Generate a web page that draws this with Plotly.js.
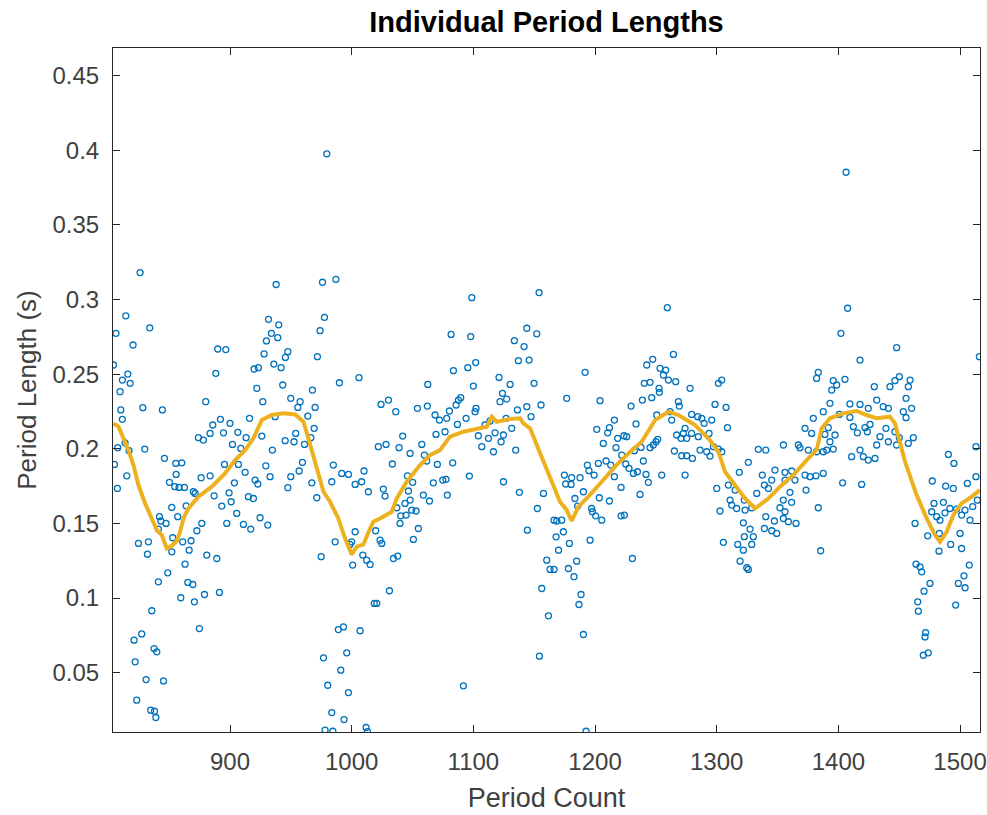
<!DOCTYPE html>
<html>
<head>
<meta charset="utf-8">
<script src="https://cdn.plot.ly/plotly-3.0.1.min.js"></script>
<style>html,body{margin:0;padding:0;background:#fff;}#chart{width:987px;height:815px;}</style>
</head>
<body>
<div id="chart"></div>
<script>
// ---- Individual period lengths (scatter) ----
const countA = [979.5, 826.1, 937.9, 976.0, 987.0, 814.3, 806.3, 834.0, 820.3, 931.6,
  940.0, 934.0, 939.2, 929.9, 977.6, 974.0, 889.9, 896.5, 947.5, 945.5,
  928.0, 971.8, 936.0, 942.0, 919.8, 923.3, 804.2, 816.0, 888.3, 811.5,
  817.9, 943.3, 922.0, 967.7];
const lenA = [0.3975, 0.318, 0.310, 0.3115, 0.3135, 0.289, 0.2773, 0.281, 0.2695, 0.2867,
  0.283, 0.2773, 0.2744, 0.2722, 0.288, 0.2791, 0.2668, 0.2664, 0.265, 0.2612,
  0.2635, 0.2617, 0.2567, 0.2543, 0.2534, 0.2543, 0.2561, 0.25, 0.2505, 0.246,
  0.2438, 0.2427, 0.2405, 0.2393];

const countB = [809.6, 926.9, 949.9, 957.6, 955.7, 969.9, 880.0, 828.3, 844.4, 810.2,
  811.5, 916.0, 892.1, 885.8, 900.0, 937.0, 963.9, 969.1, 874.0, 878.1,
  883.6, 894.6, 906.4, 913.2, 926.1, 954.0, 966.4, 945.3, 952.6, 961.2,
  807.7, 813.7, 829.9, 817.0, 902.0, 908.8, 934.8, 846.1, 855.4, 860.3,
  805.0, 895.4, 906.9, 929.4, 959.5, 912.4, 855.7, 815.1, 876.2, 883.6,
  932.9, 920.6, 949.9, 956.8, 850.2, 854.6, 858.1, 862.5, 903.6, 922.8,
  947.5, 967.2, 983.6, 807.4, 869.9, 871.3, 886.9, 899.2, 915.1, 919.2,
  971.3, 863.9, 893.2, 900.9, 852.1, 857.0, 842.0, 905.5, 911.0, 917.0,
  924.7, 931.0, 897.3, 876.8, 872.7, 843.1, 847.4, 841.1, 852.9, 868.0,
  861.1, 824.7, 832.9, 866.4, 852.1, 832.1, 880.9, 889.1, 974.9, 986.4,
  863.0, 848.8, 841.1, 865.3, 869.4, 879.0, 891.3, 859.5, 870.7, 835.7,
  874.8, 827.4, 821.1, 837.6, 839.8, 822.0, 976.8, 831.0, 845.3, 980.3,
  823.3, 983.6, 834.8, 837.9, 839.0, 978.1, 984.5];
const lenB = [0.2382, 0.2315, 0.2338, 0.2315, 0.2277, 0.2277, 0.2315, 0.2275, 0.226, 0.226,
  0.2197, 0.2204, 0.2197, 0.2159, 0.217, 0.2215, 0.2219, 0.2137, 0.2074, 0.2058,
  0.2103, 0.2107, 0.2110, 0.2074, 0.2085, 0.2103, 0.2074, 0.2054, 0.2047, 0.2029,
  0.2007, 0.204, 0.1998, 0.1987, 0.2029, 0.2002, 0.1991, 0.1936, 0.1902, 0.1906,
  0.1895, 0.1895, 0.1895, 0.1886, 0.1909, 0.1842, 0.1828, 0.1819, 0.1806, 0.1819,
  0.1813, 0.1790, 0.1813, 0.1851, 0.1775, 0.1746, 0.1741, 0.1741, 0.1772, 0.1764,
  0.1739, 0.1772, 0.1779, 0.1734, 0.1712, 0.1701, 0.1685, 0.1705, 0.1679, 0.1667,
  0.1672, 0.1618, 0.1616, 0.1645, 0.1607, 0.1545, 0.1545, 0.1567, 0.1493, 0.1462,
  0.1538, 0.1489, 0.1500, 0.1500, 0.1451, 0.1516, 0.1500, 0.1462, 0.1404, 0.1384,
  0.1377, 0.1366, 0.1377, 0.1321, 0.1310, 0.1294, 0.1288, 0.1265, 0.1277, 0.1377,
  0.1227, 0.1169, 0.1109, 0.1105, 0.1091, 0.1024, 0.1038, 0.1002, 0.0975, 0.0915,
  0.0796, 0.076, 0.0718, 0.0662, 0.064, 0.0573, 0.06, 0.0454, 0.0445, 0.0416,
  0.0316, 0.0233, 0.0249, 0.0242, 0.0200, 0.0115, 0.0108];

const countC = [1098.7, 1154.0, 1081.7, 1097.8, 1143.9, 1152.1, 1133.7, 1141.7, 1101.9, 1095.4,
  1083.6, 1137.0, 1145.8, 1006.0, 989.9, 1062.5, 1100.0, 1121.1, 1130.2, 1149.9];
const lenC = [0.3012, 0.3046, 0.2766, 0.2751, 0.2807, 0.277, 0.2724, 0.2684, 0.2577, 0.2543,
  0.2523, 0.259, 0.2594, 0.2476, 0.2442, 0.2431, 0.242, 0.2478, 0.2431, 0.2438];

const countD = [1024.1, 1030.2, 1036.2, 1054.0, 1062.2, 1068.5, 1072.1, 1080.3, 1085.8, 1087.7,
  1089.6, 1078.1, 1086.9, 1094.0, 1101.4, 1102.2, 1121.9, 1123.9, 1127.4, 1136.2,
  1143.9, 1155.6, 1147.4, 1126.9, 1113.7, 1109.6, 1117.8, 1104.1, 1124.7, 1131.5,
  1112.4, 1106.9, 1116.5, 1122.8, 1134.8, 1076.7, 1069.3, 1057.6, 1048.0, 1041.9,
  1038.9, 1021.9, 1028.2, 1059.7, 1061.7, 1070.4, 1083.0, 1033.4, 984.9, 991.8,
  997.3, 1010.1, 1045.8, 1096.7, 1074.8, 1077.5, 1124.7, 1002.8, 1008.2, 1050.1,
  1067.1, 1026.0, 1013.7, 1046.6, 1058.9, 1078.6, 1137.8, 1157.6, 1027.4, 1048.0,
  1063.9, 1043.8, 1037.0, 1052.9, 1049.3, 1044.7, 1040.3, 1152.6, 1039.7, 1054.8,
  1050.7, 1166.3, 1168.5, 1144.4, 1000.0, 998.6, 1002.8, 1019.7, 1023.3, 1024.7,
  1009.1, 1012.3, 1015.1, 1000.8, 1034.3, 1037.8, 1168.0, 1170.0, 1160.3, 1163.0,
  1166.3, 1156.2, 1031.0, 1018.6, 1020.6, 1161.7, 989.0, 993.2, 1006.9, 995.9,
  991.0, 1154.3, 997.3, 1091.8, 993.7, 1011.8, 1012.9];
const lenD = [0.2297, 0.2326, 0.2248, 0.2271, 0.2286, 0.2226, 0.2192, 0.2253, 0.2293, 0.2326,
  0.2342, 0.2204, 0.2163, 0.2204, 0.2248, 0.2271, 0.2315, 0.2371, 0.2333, 0.226,
  0.2282, 0.2293, 0.2215, 0.2204, 0.2186, 0.2159, 0.2107, 0.2087, 0.2092, 0.2137,
  0.2070, 0.2014, 0.1980, 0.2047, 0.1991, 0.2114, 0.2096, 0.2029, 0.1969, 0.2085,
  0.2007, 0.2014, 0.2029, 0.1958, 0.1918, 0.1895, 0.1906, 0.1898, 0.1891, 0.1835,
  0.1828, 0.1851, 0.1819, 0.1817, 0.179, 0.1795, 0.1779, 0.1761, 0.1779, 0.1775,
  0.1772, 0.1730, 0.1712, 0.1717, 0.1690, 0.1690, 0.1708, 0.1701, 0.1683, 0.1656,
  0.1650, 0.1634, 0.1605, 0.1583, 0.1589, 0.1556, 0.1551, 0.1600, 0.1500, 0.1466,
  0.1393, 0.1522, 0.1516, 0.1455, 0.1377, 0.1359, 0.1444, 0.1451, 0.1388, 0.1366,
  0.1288, 0.1254, 0.1225, 0.1221, 0.1265, 0.1281, 0.141, 0.1321, 0.1254, 0.1192,
  0.1192, 0.1064, 0.1049, 0.0964, 0.0964, 0.0881, 0.0789, 0.0807, 0.0781, 0.0633,
  0.0517, 0.0611, 0.0367, 0.0412, 0.0186, 0.0133, 0.0106];

const countE = [1259.4, 1264.4, 1191.8, 1247.4, 1242.5, 1253.4, 1258.1, 1256.2, 1260.3, 1266.3,
  1240.5, 1245.2, 1301.4, 1304.1, 1278.1, 1252.6];
const lenE = [0.2945, 0.2632, 0.2512, 0.2599, 0.2561, 0.2539, 0.2527, 0.2494, 0.2460, 0.2449,
  0.2438, 0.2445, 0.2438, 0.2460, 0.2405, 0.2405];

const countF = [1176.7, 1204.1, 1229.6, 1238.9, 1246.6, 1252.9, 1268.5, 1269.3, 1298.6, 1307.7,
  1215.9, 1233.7, 1201.4, 1211.8, 1210.4, 1250.7, 1261.6, 1263.0, 1279.4, 1284.4,
  1287.7, 1289.6, 1295.9, 1274.0, 1272.6, 1279.4, 1267.1, 1284.9, 1270.7, 1275.3,
  1293.7, 1308.8, 1226.0, 1223.8, 1218.6, 1206.8, 1217.2, 1250.1, 1247.9, 1245.2,
  1237.8, 1232.3, 1251.5, 1221.9, 1297.3, 1301.4, 1304.1, 1286.3, 1291.8, 1294.5,
  1265.2, 1271.2, 1275.3, 1280.0, 1334.2, 1340.3, 1354.8, 1239.7, 1193.7, 1202.7,
  1209.0, 1212.9, 1225.2, 1227.9, 1231.5, 1234.8, 1195.0, 1199.2, 1326.0, 1347.9,
  1337.5, 1345.2, 1356.2, 1174.8, 1180.8, 1187.7, 1175.9, 1180.3, 1215.9, 1241.9,
  1243.8, 1254.8, 1274.0, 1221.4, 1318.6, 1300.0, 1309.6, 1315.1, 1339.2, 1342.5,
  1332.9, 1190.4, 1203.5, 1237.0, 1183.5, 1211.8, 1311.0, 1322.7, 1312.3, 1316.4,
  1323.3, 1328.8, 1352.0, 1302.7, 1197.2, 1197.8, 1200.5, 1205.5, 1185.7, 1221.4,
  1224.1, 1172.6, 1174.0, 1195.9, 1178.9, 1184.9, 1178.1, 1182.7, 1340.3, 1347.4,
  1354.8, 1321.9, 1327.4, 1330.1, 1322.7, 1339.2, 1345.2, 1349.3, 1328.8, 1317.3,
  1321.9, 1305.5, 1230.7, 1319.2, 1324.7, 1326.0, 1188.5, 1186.8, 1190.4, 1192.6];
const lenF = [0.2338, 0.2322, 0.2286, 0.2326, 0.2342, 0.2378, 0.2315, 0.2286, 0.2297, 0.2277,
  0.2192, 0.2166, 0.2130, 0.2141, 0.2107, 0.2226, 0.2248, 0.2192, 0.2230, 0.2215,
  0.2204, 0.2170, 0.2192, 0.2137, 0.2103, 0.2103, 0.2092, 0.2081, 0.2070, 0.2070,
  0.2103, 0.2141, 0.2081, 0.2087, 0.2070, 0.2036, 0.2007, 0.2047, 0.2025, 0.2007,
  0.2009, 0.1987, 0.2063, 0.1958, 0.2014, 0.1998, 0.1980, 0.1991, 0.1980, 0.1951,
  0.1985, 0.1953, 0.1953, 0.1935, 0.1996, 0.1991, 0.2025, 0.1918, 0.1891, 0.1902,
  0.1918, 0.1891, 0.1898, 0.1869, 0.1835, 0.1846, 0.1853, 0.1824, 0.1909, 0.1857,
  0.1824, 0.1790, 0.1790, 0.1824, 0.1806, 0.1806, 0.1764, 0.1761, 0.1813, 0.1828,
  0.1775, 0.1824, 0.1824, 0.1741, 0.1842, 0.1734, 0.1757, 0.1723, 0.1757, 0.1734,
  0.1701, 0.1712, 0.1672, 0.1694, 0.1667, 0.1650, 0.1656, 0.1656, 0.1623, 0.1600,
  0.1589, 0.1605, 0.1605, 0.1583, 0.1600, 0.1578, 0.1551, 0.1522, 0.1616, 0.1551,
  0.1556, 0.1522, 0.1444, 0.1388, 0.1366, 0.1247, 0.1198, 0.1143, 0.1545, 0.1516,
  0.1533, 0.1504, 0.1462, 0.1411, 0.1411, 0.1466, 0.1451, 0.1433, 0.1359, 0.1359,
  0.1321, 0.1373, 0.1265, 0.1247, 0.1203, 0.1192, 0.1024, 0.0957, 0.0756, 0.0108];

const countG = [1406.3, 1407.6, 1402.1, 1447.9, 1417.8, 1515.9, 1383.5, 1382.1, 1395.8, 1398.6,
  1405.4, 1429.5, 1442.4, 1446.5, 1450.1, 1458.9, 1457.5];
const lenG = [0.3852, 0.2941, 0.2773, 0.2677, 0.2594, 0.2617, 0.2512, 0.2471, 0.2456, 0.2427,
  0.2465, 0.2416, 0.2416, 0.2456, 0.2483, 0.2460, 0.2416];

const countH = [1394.5, 1455.6, 1393.1, 1387.6, 1379.4, 1409.5, 1417.8, 1424.6, 1431.5, 1436.9,
  1441.1, 1460.2, 1453.4, 1400.8, 1409.5, 1455.6, 1426.0, 1412.3, 1415.6, 1421.9,
  1423.8, 1391.7, 1389.0, 1397.2, 1372.6, 1378.0, 1434.2, 1439.1, 1446.5, 1450.1,
  1457.5, 1461.6, 1441.1, 1447.9, 1431.5, 1393.1, 1395.8, 1367.1, 1368.4, 1375.3,
  1382.1, 1387.6, 1390.4, 1417.8, 1410.9, 1420.5, 1424.6, 1430.1, 1490.4, 1495.0,
  1513.1, 1356.1, 1361.6, 1364.3, 1372.6, 1376.7, 1381.6, 1387.6, 1403.5, 1419.1,
  1477.2, 1488.2, 1494.5, 1506.0, 1513.1, 1360.2, 1373.4, 1354.7, 1361.6, 1356.1,
  1358.9, 1365.2, 1383.5, 1478.6, 1486.3, 1491.7, 1497.2, 1504.1, 1510.4, 1514.2,
  1476.7, 1480.8, 1483.5, 1501.3, 1508.2, 1487.6, 1463.0, 1473.4, 1483.0, 1500.0,
  1492.3, 1482.7, 1501.3, 1385.4, 1463.8, 1467.1, 1468.5, 1507.6, 1503.2, 1475.3,
  1498.6, 1504.1, 1470.4, 1465.2, 1465.7, 1496.4, 1471.7, 1471.2, 1469.8, 1473.9];
const lenH = [0.2393, 0.2338, 0.2304, 0.2248, 0.2204, 0.2300, 0.2297, 0.2271, 0.2326, 0.2282,
  0.2271, 0.2271, 0.2248, 0.2230, 0.2210, 0.2208, 0.2163, 0.2148, 0.2107, 0.2141,
  0.2114, 0.2141, 0.2096, 0.2092, 0.2137, 0.2103, 0.2081, 0.2137, 0.2114, 0.2074,
  0.2036, 0.2074, 0.2047, 0.2025, 0.2025, 0.2047, 0.1998, 0.2025, 0.2007, 0.1991,
  0.1980, 0.1980, 0.1991, 0.1991, 0.1947, 0.1947, 0.1924, 0.1935, 0.1962, 0.1902,
  0.2014, 0.1842, 0.1851, 0.1790, 0.1824, 0.1813, 0.1819, 0.1835, 0.1772, 0.1761,
  0.1784, 0.1750, 0.1734, 0.1768, 0.1813, 0.1708, 0.1723, 0.1656, 0.1641, 0.1578,
  0.1511, 0.1500, 0.1605, 0.1634, 0.1641, 0.1600, 0.1596, 0.1589, 0.1612, 0.1656,
  0.1578, 0.1545, 0.1522, 0.1556, 0.1522, 0.1571, 0.1500, 0.1417, 0.1433, 0.1433,
  0.1359, 0.1314, 0.1332, 0.1317, 0.1227, 0.1209, 0.1176, 0.1221, 0.1149, 0.1098,
  0.1098, 0.1069, 0.1046, 0.0975, 0.0912, 0.0953, 0.0769, 0.0740, 0.0617, 0.0633];

// ---- Smoothed trend (yellow line) ----
const trendCount = [804.2, 808.3, 812.4, 816.5, 820.6, 824.7, 830.2, 835.7, 839.8, 843.9,
  848.0, 852.1, 856.2, 858.9, 861.7, 865.8, 874.0, 885.0, 895.9, 904.2,
  912.4, 919.2, 926.1, 934.3, 943.9, 953.5, 960.3, 964.4, 969.9, 976.8,
  982.2, 989.0, 994.5, 1000.0, 1004.1, 1009.6, 1015.1, 1017.8, 1023.3, 1032.9,
  1037.0, 1045.2, 1056.2, 1064.4, 1072.6, 1080.8, 1091.8, 1102.8, 1111.0, 1115.1,
  1119.2, 1130.2, 1138.4, 1141.1, 1146.6, 1152.1, 1160.3, 1167.1, 1171.2, 1176.7,
  1180.8, 1186.3, 1194.5, 1205.5, 1216.4, 1227.4, 1238.3, 1249.3, 1260.3, 1268.5,
  1282.2, 1293.1, 1301.4, 1306.8, 1315.1, 1323.3, 1331.5, 1342.5, 1352.0, 1363.0,
  1373.9, 1382.1, 1386.3, 1393.1, 1404.1, 1415.0, 1423.2, 1431.5, 1442.4, 1446.5,
  1454.8, 1464.3, 1472.6, 1479.4, 1483.5, 1489.0, 1494.5, 1501.3, 1509.6, 1516.4];
const trendLength = [0.217, 0.2148, 0.207, 0.1991, 0.1891, 0.1757, 0.1634, 0.1533, 0.1455, 0.1422,
  0.1332, 0.135, 0.1382, 0.1444, 0.1533, 0.16, 0.1679, 0.1746, 0.1835, 0.1924,
  0.1991, 0.207, 0.2192, 0.2226, 0.2237, 0.2230, 0.2181, 0.207, 0.1913, 0.1712,
  0.1645, 0.1533, 0.14, 0.1292, 0.1344, 0.1359, 0.1466, 0.1511, 0.1533, 0.1578,
  0.1667, 0.1779, 0.1891, 0.1958, 0.1991, 0.2081, 0.2114, 0.2130, 0.2148, 0.2215,
  0.2181, 0.2199, 0.2204, 0.2170, 0.2137, 0.2025, 0.1868, 0.1734, 0.1645, 0.1589,
  0.1516, 0.1612, 0.1679, 0.1779, 0.1880, 0.1969, 0.2047, 0.2192, 0.2248, 0.2226,
  0.2159, 0.2070, 0.1980, 0.1846, 0.1757, 0.1667, 0.16, 0.1667, 0.1746, 0.1824,
  0.1924, 0.1991, 0.2137, 0.2204, 0.2237, 0.2253, 0.2226, 0.2204, 0.2215, 0.2170,
  0.1913, 0.1690, 0.1533, 0.1422, 0.1377, 0.1444, 0.1556, 0.1634, 0.1679, 0.1723];

// ---- Axis ticks ----
const xTickVals = [900, 1000, 1100, 1200, 1300, 1400, 1500];
const xTickText = ['900', '1000', '1100', '1200', '1300', '1400', '1500'];
const yTickVals = [0.05, 0.1, 0.15, 0.2, 0.25, 0.3, 0.35, 0.4, 0.45];
const yTickText = ['0.05', '0.1', '0.15', '0.2', '0.25', '0.3', '0.35', '0.4', '0.45'];

const periodCount = [].concat(countA, countB, countC, countD, countE, countF, countG, countH);
const periodLength = [].concat(lenA, lenB, lenC, lenD, lenE, lenF, lenG, lenH);

const FONT = 'Liberation Sans, Arial, sans-serif';
const AX = '#262626';

const traces = [
  {
    x: periodCount, y: periodLength, type: 'scatter', mode: 'markers',
    marker: {symbol: 'circle-open', size: 6, color: '#0072BD', line: {width: 1.3, color: '#0072BD'}},
    hoverinfo: 'x+y', showlegend: false
  },
  {
    x: trendCount, y: trendLength, type: 'scatter', mode: 'lines',
    line: {color: '#EDB120', width: 4, shape: 'linear'},
    showlegend: false
  }
];

const axisCommon = {
  showline: true, linecolor: AX, linewidth: 1, mirror: 'ticks',
  ticks: 'inside', ticklen: 7, tickwidth: 1, tickcolor: AX,
  showgrid: false, zeroline: false,
  tickfont: {family: FONT, size: 24, color: '#404040'}
};

const layout = {
  width: 987, height: 815,
  margin: {l: 113, r: 7, t: 48, b: 83, pad: 0},
  paper_bgcolor: '#ffffff', plot_bgcolor: '#ffffff',
  font: {family: FONT, color: AX},
  title: {
    text: '<b>Individual Period Lengths</b>',
    font: {family: FONT, size: 29, color: '#000000'},
    x: 0.5, xref: 'paper', xanchor: 'center',
    y: 1 - 22 / 815, yref: 'container', yanchor: 'middle'
  },
  xaxis: Object.assign({}, axisCommon, {
    range: [803.8, 1516.4], tickmode: 'array', tickvals: xTickVals, ticktext: xTickText,
    ticklabelstandoff: 8,
    title: {text: 'Period Count', font: {family: FONT, size: 27, color: '#404040'}, standoff: 14}
  }),
  yaxis: Object.assign({}, axisCommon, {
    range: [0.0103, 0.4684], tickmode: 'array', tickvals: yTickVals, ticktext: yTickText,
    ticklabelstandoff: 8,
    title: {text: 'Period Length (s)', font: {family: FONT, size: 26, color: '#404040'}, standoff: 8}
  }),
  showlegend: false
};

Plotly.newPlot('chart', traces, layout, {staticPlot: true, displayModeBar: false});
</script>
</body>
</html>
